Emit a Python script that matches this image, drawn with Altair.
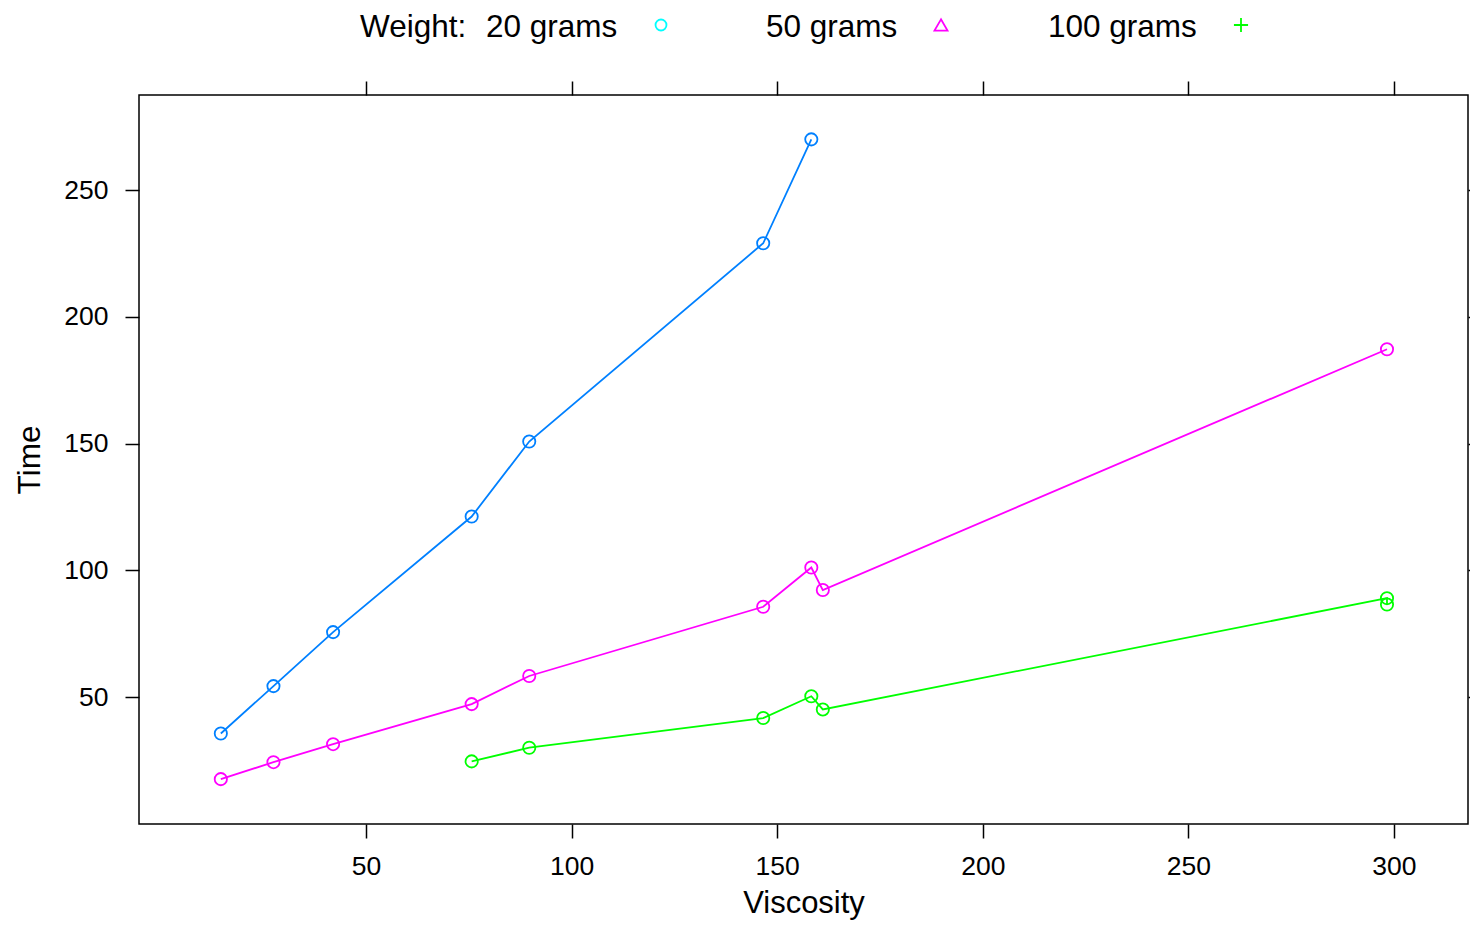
import altair as alt
import pandas as pd

# Stormer viscometer data
viscosity = [14.7, 27.5, 42.0, 75.7, 89.7, 146.6, 158.3,
             14.7, 27.5, 42.0, 75.7, 89.7, 146.6, 158.3, 161.1, 298.3,
             75.7, 89.7, 146.6, 158.3, 161.1, 298.3, 298.3]
weight = ["20"] * 7 + ["50"] * 9 + ["100"] * 7
time = [35.6, 54.3, 75.6, 121.2, 150.8, 229.0, 270.0,
        17.6, 24.3, 31.4, 47.2, 58.3, 85.6, 101.1, 92.2, 187.2,
        24.6, 30.0, 41.7, 50.3, 45.1, 89.0, 86.5]
weight_levels = ["20", "50", "100"]
line_colors = ["#0080ff", "#ff00ff", "#00ff00"]
x_ticks = [50, 100, 150, 200, 250, 300]
y_ticks = [50, 100, 150, 200, 250]

df = pd.DataFrame({"Viscosity": viscosity, "Weight": weight, "Time": time,
                   "idx": list(range(len(time)))})

FONT = "Liberation Sans"
W, H = 1329, 729

xscale = alt.Scale(domain=[-5.2, 318.0], nice=False, zero=False)
yscale = alt.Scale(domain=[-0.1, 287.5], nice=False, zero=False)
color = alt.Color("Weight:N", scale=alt.Scale(domain=weight_levels, range=line_colors), legend=None)

x_axis = alt.Axis(values=x_ticks, tickSize=14, tickWidth=1.5, tickColor="black", domain=False, grid=False,
                  labelFontSize=26.5, labelColor="black", labelPadding=15, labelFont=FONT,
                  title="Viscosity", titleFontSize=31, titleFontWeight="normal", titleFont=FONT,
                  titleColor="black", titleY=88, titleBaseline="alphabetic")
y_axis = alt.Axis(values=y_ticks, tickSize=14, tickWidth=1.5, tickColor="black", domain=False, grid=False,
                  labelFontSize=26.5, labelColor="black", labelPadding=17, labelFont=FONT,
                  title="Time", titleFontSize=31.5, titleFontWeight="normal", titleFont=FONT,
                  titleColor="black", titleX=-100, titleBaseline="alphabetic", titleAngle=-90)

base = alt.Chart(df)

lines = base.mark_line(strokeWidth=1.8).encode(
    x=alt.X("Viscosity:Q", scale=xscale, axis=x_axis),
    y=alt.Y("Time:Q", scale=yscale, axis=y_axis),
    color=color,
    detail="Weight:N",
    order="idx:Q",
)

# points layer also carries the tick-only top and right axes
points = base.mark_point(shape="circle", filled=False, size=150, strokeWidth=1.8, opacity=1).encode(
    x=alt.X("Viscosity:Q", scale=xscale,
            axis=alt.Axis(orient="top", values=x_ticks, labels=False, title=None, tickSize=14,
                          tickWidth=1.5, tickColor="black", domain=False, grid=False)),
    y=alt.Y("Time:Q", scale=yscale,
            axis=alt.Axis(orient="right", values=y_ticks, labels=False, title=None, tickSize=14,
                          tickWidth=1.5, tickColor="black", domain=False, grid=False)),
    color=color,
)

one = pd.DataFrame({"k": [0]})
LY = -58.5
SY = -70


def legend_text(txt, x):
    return alt.Chart(one).mark_text(text=txt, font=FONT, fontSize=31.5, color="black",
                                    align="left", baseline="alphabetic").encode(
        x=alt.value(x), y=alt.value(LY))


def legend_sym(shape, col, x, size):
    return alt.Chart(one).mark_point(shape=shape, filled=False, color=col, size=size,
                                     strokeWidth=1.8, opacity=1).encode(
        x=alt.value(x), y=alt.value(SY))


legend = [
    legend_text("Weight:", 221),
    legend_text("20 grams", 347),
    legend_sym("circle", "#00ffff", 522, 120),
    legend_text("50 grams", 627),
    legend_sym("triangle-up", "#ff00ff", 802, 170),
    legend_text("100 grams", 909),
    legend_sym("M-1,0H1M0,-1V1", "#00ff00", 1102, 200),
]

chart = alt.layer(lines, points, *legend).resolve_axis(
    x="independent", y="independent"
).properties(
    width=W, height=H,
    autosize=alt.AutoSizeParams(type="none"),
    padding={"left": 131, "top": 87, "right": 2, "bottom": 96},
).configure(
    font=FONT,
    view=alt.ViewConfig(stroke="black", strokeWidth=1.5),
)

chart.save("out.html", embed_options={"renderer": "svg", "actions": False})
